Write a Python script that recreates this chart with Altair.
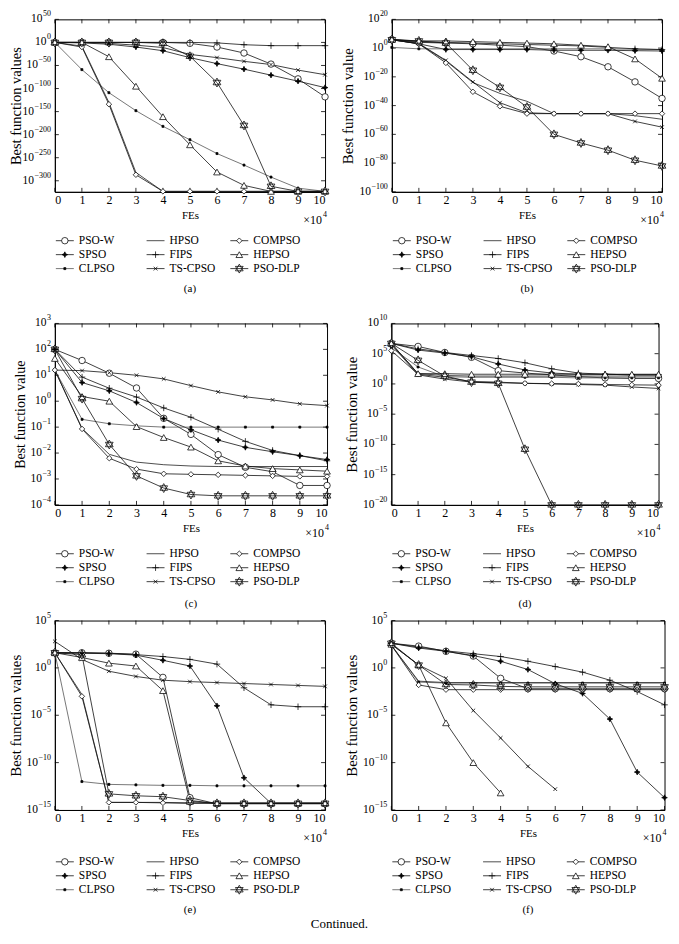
import altair as alt
import pandas as pd

SERIF = "Liberation Serif"
SERIES = ["PSO-W", "SPSO", "CLPSO", "HPSO", "FIPS", "TS-CPSO", "COMPSO", "HEPSO", "PSO-DLP"]
FES = list(range(11))  # x 10^4 function evaluations

# log10 of the best function value
A = {
    "PSO-W":   [0, 0, 0, 0, 0, -2, -10, -23, -47, -79, -118],
    "SPSO":    [0, -1, -4, -10, -18, -33, -46, -58, -71, -84, -98],
    "CLPSO":   [0, -59, -109, -148, -182, -211, -241, -266, -292, -316, -323],
    "HPSO":    [0, -8, -130, -282, -323, -323, -323, -323, -323, -323, -323],
    "FIPS":    [0, 0, 0, 0, 0, 0, -1, -5, -7, -7, -7],
    "TS-CPSO": [0, 0, -2, -6, -11, -26, -33, -41, -48, -60, -70],
    "COMPSO":  [0, -10, -134, -287, -323, -323, -323, -323, -323, -323, -323],
    "HEPSO":   [0, 0, -31, -95, -161, -222, -281, -310, -323, -323, -323],
    "PSO-DLP": [0, 0, 0, 0, -2, -30, -87, -180, -312, -323, -323],
}
B = {
    "PSO-W":   [6, 4, 3.5, 3, 2, 1, -2, -6, -13, -23.5, -35],
    "SPSO":    [6, 3, -1, -1, -1, -1, -1.5, -1.5, -1.5, -1.8, -2],
    "CLPSO":   [0.5, -0.5, -0.5, -0.5, -0.5, -0.5, -0.5, -0.5, -0.5, -0.8, -1],
    "HPSO":    [5.8, 3, -9, -24, -31.5, -37, -45.6, -45.6, -45.6, -47, -49.5],
    "FIPS":    [6, 4.5, 4, 3.5, 3, 2.5, 2, 1.5, 0.5, -0.5, -1],
    "TS-CPSO": [5.8, 3.2, -8.5, -23.5, -38, -45, -45.6, -45.6, -45.6, -51, -55],
    "COMPSO":  [5.8, 3, -10.3, -30.4, -40.5, -45.6, -45.6, -45.6, -45.6, -45.6, -45.6],
    "HEPSO":   [6, 5, 5, 4.5, 4, 3.5, 3, 2, 1, -7.5, -21],
    "PSO-DLP": [5.8, 5, 3.5, -15.4, -27.3, -41, -60, -66, -71, -78, -82],
}
C = {
    "PSO-W":   [2, 1.57, 1.08, 0.51, -0.66, -1.28, -2.06, -2.55, -2.72, -3.25, -3.25],
    "SPSO":    [2, 0.72, 0.4, -0.05, -0.67, -1.1, -1.5, -1.78, -1.95, -2.1, -2.25],
    "CLPSO":   [1.2, -0.7, -0.87, -0.95, -1, -1, -1, -1, -1, -1, -1],
    "HPSO":    [1.2, -1.05, -2.05, -2.35, -2.45, -2.5, -2.52, -2.52, -2.52, -2.52, -2.52],
    "FIPS":    [2, 0.93, 0.5, 0.16, -0.26, -0.62, -1.08, -1.55, -1.9, -2.1, -2.3],
    "TS-CPSO": [1.2, 1.18, 1.1, 1.0, 0.86, 0.6, 0.36, 0.17, 0.05, -0.1, -0.17],
    "COMPSO":  [1.2, -1.07, -2.2, -2.62, -2.8, -2.82, -2.84, -2.86, -2.88, -2.9, -2.9],
    "HEPSO":   [1.65, 0.18, 0.0, -0.98, -1.4, -1.77, -2.3, -2.5, -2.6, -2.65, -2.7],
    "PSO-DLP": [2, 0.1, -1.67, -2.88, -3.35, -3.6, -3.65, -3.65, -3.65, -3.65, -3.65],
}
D = {
    "PSO-W":   [6.7, 6.2, 5.2, 4.4, 2.2, 1.8, 1.5, 1.2, 1.0, 0.9, 0.9],
    "SPSO":    [6.7, 5.6, 5.1, 4.5, 3.3, 2.3, 1.8, 1.6, 1.6, 1.5, 1.5],
    "CLPSO":   [6, 2.8, 1.2, 1.1, 1.1, 1.1, 1.1, 1.0, 1.0, 1.0, 1.0],
    "HPSO":    [6.7, 1.7, 1.4, 1.3, 1.3, 1.3, 1.3, 1.3, 1.3, 1.3, 1.3],
    "FIPS":    [6.7, 5.8, 5.2, 4.7, 4.2, 3.5, 2.5, 1.8, 1.6, 1.5, 1.5],
    "TS-CPSO": [6.5, 1.5, 0.8, 0.3, 0.2, 0.1, 0.0, -0.1, -0.2, -0.5, -0.75],
    "COMPSO":  [5.5, 1.6, 1.1, 0.4, 0.3, 0.1, 0.05, 0.0, -0.1, -0.15, -0.2],
    "HEPSO":   [6.7, 1.7, 1.7, 1.6, 1.6, 1.6, 1.6, 1.6, 1.6, 1.6, 1.6],
    "PSO-DLP": [6.7, 3.9, 1.3, 0.3, 0.1, -10.8, -20, -20, -20, -20, -20],
}
E = {
    "PSO-W":   [1.6, 1.6, 1.55, 1.45, -1.0, -13.7, -14.35, -14.35, -14.35, -14.35, -14.35],
    "SPSO":    [1.6, 1.55, 1.5, 1.35, 0.8, 0.2, -4.0, -11.6, -14.3, -14.3, -14.3],
    "CLPSO":   [1.6, -12.0, -12.3, -12.35, -12.4, -12.4, -12.45, -12.45, -12.45, -12.45, -12.45],
    "HPSO":    [1.6, -2.8, -14.2, -14.2, -14.2, -14.25, -14.25, -14.25, -14.25, -14.25, -14.25],
    "FIPS":    [1.6, 1.6, 1.55, 1.4, 1.2, 0.9, 0.4, -2.1, -3.9, -4.1, -4.1],
    "TS-CPSO": [2.8, 0.9, -0.35, -0.9, -1.3, -1.45, -1.55, -1.65, -1.75, -1.85, -1.95],
    "COMPSO":  [1.6, -3.0, -14.2, -14.2, -14.25, -14.3, -14.3, -14.3, -14.3, -14.3, -14.3],
    "HEPSO":   [1.6, 1.1, 0.5, 0.2, -2.4, -14.1, -14.3, -14.3, -14.3, -14.3, -14.3],
    "PSO-DLP": [1.6, 1.4, -13.3, -13.5, -13.6, -14.0, -14.3, -14.3, -14.3, -14.3, -14.3],
}
F = {
    "PSO-W":   [2.6, 2.3, 1.75, 1.25, -1.1, -2.2, -2.2, -2.2, -2.2, -2.2, -2.2],
    "SPSO":    [2.6, 2.1, 1.75, 1.3, 0.7, -0.17, -1.67, -2.7, -5.4, -11.0, -13.7],
    "CLPSO":   [2.4, -1.5, -1.6, -1.6, -1.6, -1.6, -1.6, -1.6, -1.6, -1.6, -1.6],
    "HPSO":    [2.4, -1.4, -1.55, -1.55, -1.55, -1.55, -1.55, -1.55, -1.55, -1.55, -1.55],
    "FIPS":    [2.6, 2.2, 1.8, 1.5, 1.2, 0.7, 0.14, -0.45, -1.3, -2.5, -3.9],
    "TS-CPSO": [2.5, 0.3, -1.1, -4.5, -7.4, -10.4, -12.8, None, None, None, None],
    "COMPSO":  [2.4, -1.8, -2.3, -2.3, -2.3, -2.3, -2.3, -2.3, -2.3, -2.3, -2.3],
    "HEPSO":   [2.5, 0.3, -5.8, -10.0, -13.2, None, None, None, None, None, None],
    "PSO-DLP": [2.6, 0.3, -1.75, -1.8, -1.95, -2.0, -2.0, -2.0, -2.0, -2.0, -2.0],
}

# label, values, y-domain (exponent), y ticks (exponent), y title
PANELS = [
    ("(a)", A, [-324, 50], [50, 0, -50, -100, -150, -200, -250, -300], "Best function values"),
    ("(b)", B, [-100, 20], [20, 0, -20, -40, -60, -80, -100], "Best function value"),
    ("(c)", C, [-4, 3], [3, 2, 1, 0, -1, -2, -3, -4], "Best function value"),
    ("(d)", D, [-20, 10], [10, 5, 0, -5, -10, -15, -20], "Best function value"),
    ("(e)", E, [-15, 5], [5, 0, -5, -10, -15], "Best function values"),
    ("(f)", F, [-15, 5], [5, 0, -5, -10, -15], "Best function values"),
]
LEGEND_COLS = [["PSO-W", "SPSO", "CLPSO"], ["HPSO", "FIPS", "TS-CPSO"], ["COMPSO", "HEPSO", "PSO-DLP"]]

# ---- layout / styles (not data) ----
SIZES_WH = [(271, 173), (271, 173), (273, 182), (268, 182), (271, 190), (274, 190)]
TITLE_PAD = [31, 36, 27, 31.5, 31, 31.5]
TITLE_FS = [14.5, 15, 14, 15, 15, 15]
LEG_SPACING = [7, 7, 7, 7, 10, 10]
CAP_OFFSET = [7, 7, 9, 9, 7, 7]

STAR6 = "M0,-1L0.866,0.5L-0.866,0.5Z M0,1L0.866,-0.5L-0.866,-0.5Z"
STAR4 = "M0,-1L0.3,-0.3L1,0L0.3,0.3L0,1L-0.3,0.3L-1,0L-0.3,-0.3Z"
PLUS = "M-1,0L1,0M0,-1L0,1"
XMARK = "M-1,-1L1,1M-1,1L1,-1"
MARK = {
    "PSO-W": dict(shape="circle", fill="white", size=42),
    "SPSO": dict(shape=STAR4, fill="black", size=32),
    "CLPSO": dict(shape="square", fill="black", size=4),
    "FIPS": dict(shape=PLUS, fill="white", size=42),
    "TS-CPSO": dict(shape=XMARK, fill="white", size=14),
    "COMPSO": dict(shape="diamond", fill="white", size=30),
    "HEPSO": dict(shape="triangle-up", fill="white", size=45),
    "PSO-DLP": dict(shape=STAR6, fill="white", size=80),
}
COLORS = ["#111", "#111", "#555", "#222", "#111", "#111", "#111", "#111", "#111"]
color_sc = alt.Scale(domain=SERIES, range=COLORS)


def marker_layers(df, xenc, yenc):
    out = []
    for name, m in MARK.items():
        sub = df[df["s"] == name]
        out.append(alt.Chart(sub).mark_point(filled=True, stroke="black", strokeWidth=0.75, opacity=1, **m)
                   .encode(x=xenc, y=yenc))
    return out


def ylabel_layers(ticks, yenc):
    rows = []
    for v in ticks:
        p = str(v).replace("-", "\u2212")
        w = sum(4.5 if ch == "\u2212" else 4.0 for ch in p)
        rows.append({"e": v, "p": p, "w": w})
    tdf = pd.DataFrame(rows)
    out = [alt.Chart(tdf).mark_text(font=SERIF, fontSize=8, align="right", baseline="middle", dy=-5)
           .encode(y=yenc, x=alt.value(-4), text="p:N")]
    for w in sorted(tdf["w"].unique()):
        sub = tdf[tdf["w"] == w]
        out.append(alt.Chart(sub).mark_text(font=SERIF, fontSize=11.5, align="right", baseline="middle")
                   .encode(y=yenc, x=alt.value(-4.5 - float(w)), text=alt.value("10")))
    return out


def panel(i):
    label, vals, dom, ticks, ytitle = PANELS[i]
    W, H = SIZES_WH[i]
    rows = []
    for s in SERIES:
        for x, v in zip(FES, vals[s]):
            if v is not None:
                rows.append({"x": x, "e": v, "s": s})
    df = pd.DataFrame(rows)
    xs = alt.Scale(domain=[0, 10], nice=False, zero=False)
    ys = alt.Scale(domain=dom, nice=False, zero=False)
    xenc = alt.X("x:Q", scale=xs, axis=alt.Axis(values=FES, title="FEs", ticks=False, format="d",
                                              labelFontSize=12, titleFontSize=11,
                                              labelPadding=3, titlePadding=4))
    yenc = alt.Y("e:Q", scale=ys, axis=alt.Axis(values=ticks, labels=False, title=ytitle, ticks=False,
                                              titleFontSize=TITLE_FS[i], titlePadding=TITLE_PAD[i]))
    lines = alt.Chart(df).mark_line(strokeWidth=0.8).encode(
        x=xenc, y=yenc, detail="s:N", color=alt.Color("s:N", scale=color_sc, legend=None))
    xt = pd.DataFrame({"x": FES})
    yt = pd.DataFrame({"e": ticks})
    rule = dict(color="black", strokeWidth=0.8)
    tb = alt.Chart(xt).mark_rule(**rule).encode(x=xenc, y=alt.value(H), y2=alt.value(H - 4))
    tt = alt.Chart(xt).mark_rule(**rule).encode(x=xenc, y=alt.value(0), y2=alt.value(4))
    tl = alt.Chart(yt).mark_rule(**rule).encode(y=yenc, x=alt.value(0), x2=alt.value(4))
    tr = alt.Chart(yt).mark_rule(**rule).encode(y=yenc, x=alt.value(W), x2=alt.value(W - 4))
    mult = alt.Chart(pd.DataFrame({"t": ["\u00d710"], "p": ["4"]}))
    mult_base = mult.mark_text(font=SERIF, fontSize=12, align="right", baseline="middle").encode(
        text="t:N", x=alt.value(W - 3), y=alt.value(H + 28))
    mult_exp = mult.mark_text(font=SERIF, fontSize=8, align="right", baseline="middle").encode(
        text="p:N", x=alt.value(W + 2), y=alt.value(H + 23))
    plot = alt.layer(tb, tt, tl, tr, lines, *marker_layers(df, xenc, yenc),
                     *ylabel_layers(ticks, yenc), mult_base, mult_exp).properties(width=W, height=H)

    lrows = []
    for ci, col in enumerate(LEGEND_COLS):
        x1 = [1, 92, 176][ci]
        for ri, name in enumerate(col):
            lrows.append({"s": name, "r": ri, "x1": x1, "x2": x1 + 18, "xm": x1 + 9, "xt": x1 + 23})
    ldf = pd.DataFrame(lrows)
    lx = alt.Scale(domain=[0, W], nice=False, zero=False)
    ly = alt.Scale(domain=[-0.5, 2.5], reverse=True, nice=False, zero=False)
    yl = alt.Y("r:Q", scale=ly, axis=None)
    lr = alt.Chart(ldf).mark_rule(strokeWidth=0.8).encode(
        x=alt.X("x1:Q", scale=lx, axis=None), x2="x2:Q", y=yl,
        color=alt.Color("s:N", scale=color_sc, legend=None))
    lp = marker_layers(ldf, alt.X("xm:Q", scale=lx, axis=None), yl)
    lt = alt.Chart(ldf).mark_text(align="left", baseline="middle", font=SERIF, fontSize=11.5).encode(
        x=alt.X("xt:Q", scale=lx, axis=None), y=yl, text="s:N")
    leg = alt.layer(lr, *lp, lt).properties(
        width=W, height=42, view=alt.ViewBackground(strokeWidth=0),
        title=alt.TitleParams(label, orient="bottom", font=SERIF, fontSize=11, fontWeight="normal",
                              offset=CAP_OFFSET[i]))
    return alt.vconcat(plot, leg, spacing=LEG_SPACING[i])


charts = [panel(i) for i in range(6)]
row1 = alt.hconcat(charts[0], charts[1], spacing=9)
row2 = alt.hconcat(charts[2], charts[3], spacing=11.5)
row3 = alt.hconcat(charts[4], charts[5], spacing=13.5)
chart = alt.vconcat(row1, alt.vconcat(row2, row3, spacing=2), spacing=20).properties(
    padding={"left": 0, "top": 0, "right": 0, "bottom": 0},
    title=alt.TitleParams("Continued.", orient="bottom", anchor="middle", font=SERIF, fontSize=13,
                          fontWeight="normal", offset=3),
).configure_view(stroke="black", strokeWidth=1).configure_axis(
    domainColor="black", domainWidth=1, labelFont=SERIF, titleFont=SERIF,
    titleFontWeight="normal", labelColor="black", titleColor="black", grid=False
)

chart.save("out.html", embed_options={"renderer": "svg", "actions": False})
